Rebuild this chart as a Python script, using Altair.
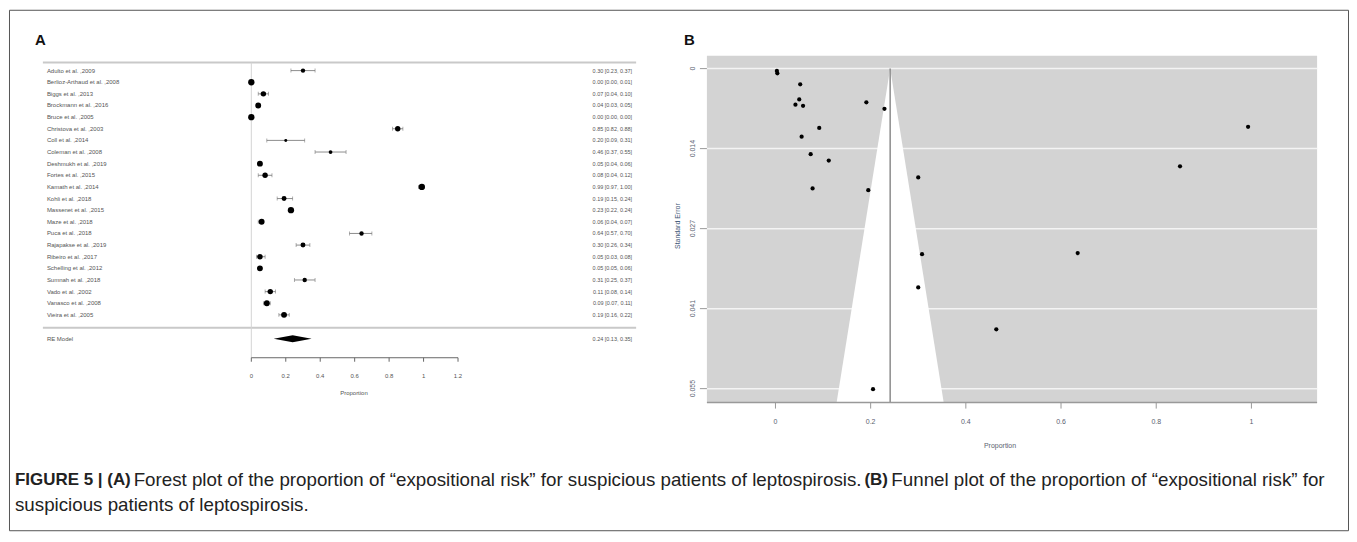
import altair as alt
import pandas as pd

OFF = 9  # page pixel -> chart pixel (8px body margin + 1px padding)


def px(v):
    return v - OFF


# ---------------- Panel A : forest plot data ----------------
studies = [
    "Adulto et al. ,2009", "Berlioz-Arthaud et al. ,2008", "Biggs et al. ,2013",
    "Brockmann et al. ,2016", "Bruce et al. ,2005", "Christova et al. ,2003",
    "Coll et al. ,2014", "Coleman et al. ,2008", "Deshmukh et al. ,2019",
    "Fortes et al. ,2015", "Kamath et al. ,2014", "Kohli et al. ,2018",
    "Massenet et al. ,2015", "Maze et al. ,2018", "Puca et al. ,2018",
    "Rajapakse et al. ,2019", "Ribeiro et al. ,2017", "Schelling et al. ,2012",
    "Sumnah et al. ,2018", "Vado et al. ,2002", "Vanasco et al. ,2008",
    "Vieira et al. ,2005",
]
est = [0.30, 0.00, 0.07, 0.04, 0.00, 0.85, 0.20, 0.46, 0.05, 0.08, 0.99,
       0.19, 0.23, 0.06, 0.64, 0.30, 0.05, 0.05, 0.31, 0.11, 0.09, 0.19]
ci_lo = [0.23, 0.00, 0.04, 0.03, 0.00, 0.82, 0.09, 0.37, 0.04, 0.04, 0.97,
         0.15, 0.22, 0.04, 0.57, 0.26, 0.03, 0.05, 0.25, 0.08, 0.07, 0.16]
ci_hi = [0.37, 0.01, 0.10, 0.05, 0.00, 0.88, 0.31, 0.55, 0.06, 0.12, 1.00,
         0.24, 0.24, 0.07, 0.70, 0.34, 0.08, 0.06, 0.37, 0.14, 0.11, 0.22]
weights = [3, 5, 4, 4.5, 5, 4, 2, 2.5, 4.5, 4, 5,
           3.5, 5, 4.5, 3, 3.5, 4, 4.5, 3, 4, 4.5, 4.5]
re_label = "RE Model"
re_est, re_lo, re_hi = 0.24, 0.13, 0.35
forest_ticks = [0, 0.2, 0.4, 0.6, 0.8, 1, 1.2]
forest_tick_labels = ["0", "0.2", "0.4", "0.6", "0.8", "1", "1.2"]

# ---------------- Panel B : funnel plot data ----------------
funnel_prop = [0.003, 0.004, 0.052, 0.050, 0.042, 0.058, 0.191, 0.229, 0.092,
               0.055, 0.074, 0.112, 0.300, 0.078, 0.195, 0.308, 0.300, 0.464,
               0.205, 0.993, 0.850, 0.635]
funnel_se = [0.0004, 0.0008, 0.0027, 0.0053, 0.0062, 0.0064, 0.0058, 0.0069,
             0.0102, 0.0117, 0.0147, 0.0158, 0.0187, 0.0206, 0.0209, 0.0319,
             0.0376, 0.0448, 0.0551, 0.0100, 0.0168, 0.0317]
funnel_center = 0.241
funnel_edge_se = [0.0, 0.0574]
funnel_edge_lo = [0.241, 0.1285]
funnel_edge_hi = [0.241, 0.3535]
funnel_xticks = [0, 0.2, 0.4, 0.6, 0.8, 1]
funnel_xtick_labels = ["0", "0.2", "0.4", "0.6", "0.8", "1"]
funnel_yticks = [0, 0.01375, 0.0275, 0.04125, 0.055]
funnel_ytick_labels = ["0", "0.014", "0.027", "0.041", "0.055"]

caption_1a = "FIGURE 5 | (A)"
caption_1b = "Forest plot of the proportion of \u201cexpositional risk\u201d for suspicious patients of leptospirosis."
caption_1c = "(B)"
caption_1d = "Funnel plot of the proportion of \u201cexpositional risk\u201d for"
caption_2 = "suspicious patients of leptospirosis."

FONT = "Liberation Sans"
CAP_FONT = "Liberation Sans"

one = pd.DataFrame({"_": [0]})


def txt(s):
    return alt.Chart(pd.DataFrame({"t": [s]}))


# ---------------- Panel A ----------------
fd = pd.DataFrame({
    "row": list(range(1, len(studies) + 1)),
    "label": studies, "est": est, "lo": ci_lo, "hi": ci_hi, "w": weights,
})
fd["txt"] = [f"{e:.2f} [{l:.2f}, {h:.2f}]" for e, l, h in zip(est, ci_lo, ci_hi)]

xA = alt.Scale(domain=[-1.21, 2.234], range=[px(43), px(638)], nice=False, zero=False)
yA = alt.Scale(domain=[0.314, 25.685], range=[px(62), px(358)], nice=False, zero=False)
RE_ROW = 24.06
DH = 0.3

XA = lambda f: alt.X(f, scale=xA, axis=None)
YA = lambda f: alt.Y(f, scale=yA, axis=None)

a_top = alt.Chart(one).mark_rule(color="#c9c9c9", strokeWidth=2).encode(
    x=alt.value(px(43)), x2=alt.value(px(638)), y=alt.value(px(62)))
a_bot = alt.Chart(one).mark_rule(color="#c9c9c9", strokeWidth=2).encode(
    x=alt.value(px(43)), x2=alt.value(px(638)), y=alt.value(px(328)))
a_zero = alt.Chart(one).mark_rule(color="#d4d4d4", strokeWidth=1).encode(
    x=alt.XDatum(forest_ticks[0], scale=xA, axis=None),
    y=alt.value(px(62)), y2=alt.value(px(358)))
a_ci = alt.Chart(fd).mark_rule(color="#707070", strokeWidth=0.8).encode(
    x=XA("lo:Q"), x2="hi:Q", y=YA("row:Q"))
a_cap_lo = alt.Chart(fd).mark_tick(orient="vertical", size=4, thickness=0.8,
                                   color="#707070").encode(x=XA("lo:Q"), y=YA("row:Q"))
a_cap_hi = alt.Chart(fd).mark_tick(orient="vertical", size=4, thickness=0.8,
                                   color="#707070").encode(x=XA("hi:Q"), y=YA("row:Q"))
a_pts = alt.Chart(fd).mark_circle(color="black", opacity=1).encode(
    x=XA("est:Q"), y=YA("row:Q"),
    size=alt.Size("w:Q", scale=alt.Scale(domain=[2, 5], range=[9, 40]), legend=None))
a_labels = alt.Chart(fd).mark_text(align="left", baseline="middle", font=FONT,
                                   fontSize=6, color="#555").encode(
    x=alt.value(px(47)), y=YA("row:Q"), text="label:N")
a_vals = alt.Chart(fd).mark_text(align="right", baseline="middle", font=FONT,
                                 fontSize=5.5, color="#555").encode(
    x=alt.value(px(634)), y=YA("row:Q"), text="txt:N")

dd = pd.DataFrame({"x": [re_lo, re_est, re_hi],
                   "y1": [RE_ROW, RE_ROW - DH, RE_ROW],
                   "y2": [RE_ROW, RE_ROW + DH, RE_ROW]})
a_diamond = alt.Chart(dd).mark_area(orient="vertical", color="black").encode(
    x=XA("x:Q"), y=YA("y1:Q"), y2="y2:Q")
a_re_lab = txt(re_label).mark_text(align="left", baseline="middle", font=FONT,
                                   fontSize=6, color="#555").encode(
    x=alt.value(px(47)), y=alt.value(px(339)), text="t:N")
a_re_val = txt(f"{re_est:.2f} [{re_lo:.2f}, {re_hi:.2f}]").mark_text(
    align="right", baseline="middle", font=FONT, fontSize=5.5, color="#555").encode(
    x=alt.value(px(634)), y=alt.value(px(339)), text="t:N")

ftd = pd.DataFrame({"t": forest_ticks, "lab": forest_tick_labels})
a_axis = alt.Chart(one).mark_rule(color="#666", strokeWidth=1).encode(
    x=alt.XDatum(forest_ticks[0], axis=None), x2=alt.X2Datum(forest_ticks[-1]),
    y=alt.value(px(358)))
a_ticks = alt.Chart(ftd).mark_rule(color="#666", strokeWidth=1).encode(
    x=XA("t:Q"), y=alt.value(px(358)), y2=alt.value(px(362)))
a_tlabs = alt.Chart(ftd).mark_text(baseline="middle", font=FONT, fontSize=6,
                                   color="#555").encode(
    x=XA("t:Q"), y=alt.value(px(376)), text="lab:N")
a_title = txt("Proportion").mark_text(baseline="middle", font=FONT, fontSize=6,
                                      color="#555").encode(
    x=alt.value(px(355)), y=alt.value(px(393)), text="t:N")

panelA = alt.layer(a_top, a_bot, a_zero, a_ci, a_cap_lo, a_cap_hi, a_pts,
                   a_labels, a_vals, a_diamond, a_re_lab, a_re_val,
                   a_axis, a_ticks, a_tlabs, a_title)

# ---------------- Panel B ----------------
xB = alt.Scale(domain=[-0.144, 1.138], range=[px(709), px(1321)], nice=False, zero=False)
yB = alt.Scale(domain=[-0.00223, 0.0574], range=[px(55), px(403)], nice=False, zero=False)
XB = lambda f: alt.X(f, scale=xB, axis=None)
YB = lambda f: alt.Y(f, scale=yB, axis=None)

fpd = pd.DataFrame({"p": funnel_prop, "se": funnel_se})
fed = pd.DataFrame({"se": funnel_edge_se, "lo": funnel_edge_lo, "hi": funnel_edge_hi})
fxt = pd.DataFrame({"t": funnel_xticks, "lab": funnel_xtick_labels})
fyt = pd.DataFrame({"t": funnel_yticks, "lab": funnel_ytick_labels})

b_bg = alt.Chart(one).mark_rect(color="#d3d3d3").encode(
    x=alt.value(px(709)), x2=alt.value(px(1321)),
    y=alt.value(px(55)), y2=alt.value(px(403)))
b_grid = alt.Chart(fyt).mark_rule(color="#f4f4f4", strokeWidth=1.5).encode(
    y=YB("t:Q"), x=alt.value(px(709)), x2=alt.value(px(1321)))
b_funnel = alt.Chart(fed).mark_area(orient="horizontal", color="white", opacity=1).encode(
    y=YB("se:Q"), x=XB("lo:Q"), x2="hi:Q")
b_center = alt.Chart(one).mark_rule(color="#8c8c8c", strokeWidth=1.5).encode(
    x=alt.XDatum(funnel_center, axis=None),
    y=alt.YDatum(funnel_edge_se[0], axis=None), y2=alt.Y2Datum(funnel_edge_se[1]))
b_pts = alt.Chart(fpd).mark_circle(color="black", size=18, opacity=1).encode(
    x=XB("p:Q"), y=YB("se:Q"))
b_xaxis = alt.Chart(one).mark_rule(color="#999", strokeWidth=1.5).encode(
    x=alt.value(px(709)), x2=alt.value(px(1321)), y=alt.value(px(403)))
b_xticks = alt.Chart(fxt).mark_rule(color="#999", strokeWidth=1).encode(
    x=XB("t:Q"), y=alt.value(px(403)), y2=alt.value(px(409)))
b_xlabs = alt.Chart(fxt).mark_text(baseline="middle", font=FONT, fontSize=7,
                                   color="#5a6270").encode(
    x=XB("t:Q"), y=alt.value(px(422)), text="lab:N")
b_yticks = alt.Chart(fyt).mark_rule(color="#999", strokeWidth=1).encode(
    y=YB("t:Q"), x=alt.value(px(702)), x2=alt.value(px(709)))
b_ylabs = alt.Chart(fyt).mark_text(baseline="middle", angle=270, font=FONT,
                                   fontSize=7, color="#5a6270").encode(
    y=YB("t:Q"), x=alt.value(px(695)), text="lab:N")
b_ytitle = txt("Standard Error").mark_text(baseline="middle", angle=270, font=FONT,
                                           fontSize=7, color="#3b5575").encode(
    x=alt.value(px(680)), y=alt.value(px(226)), text="t:N")
b_xtitle = txt("Proportion").mark_text(baseline="middle", font=FONT, fontSize=7,
                                       color="#5a6270").encode(
    x=alt.value(px(1003)), y=alt.value(px(447)), text="t:N")

panelB = alt.layer(b_bg, b_grid, b_funnel, b_center, b_pts, b_xaxis, b_xticks,
                   b_xlabs, b_yticks, b_ylabs, b_ytitle, b_xtitle)

# ---------------- labels and caption ----------------
lab_A = txt("A").mark_text(align="left", baseline="alphabetic", font=FONT,
                           fontSize=15, fontWeight="bold", color="#111").encode(
    x=alt.value(px(35)), y=alt.value(px(44)), text="t:N")
lab_B = txt("B").mark_text(align="left", baseline="alphabetic", font=FONT,
                           fontSize=15, fontWeight="bold", color="#111").encode(
    x=alt.value(px(686)), y=alt.value(px(44)), text="t:N")


def cap(s, x, y, bold=False):
    return txt(s).mark_text(align="left", baseline="middle", font=CAP_FONT,
                            fontSize=17 if bold else 18.8,
                            fontWeight="bold" if bold else "normal",
                            color="#222").encode(
        x=alt.value(px(x)), y=alt.value(px(y)), text="t:N")


captions = alt.layer(
    cap(caption_1a, 15, 481, True),
    cap(caption_1b, 134, 481),
    cap(caption_1c, 867, 481, True),
    cap(caption_1d, 894, 481),
    cap(caption_2, 15, 506),
)

chart = alt.layer(panelA, panelB, lab_A, lab_B, captions).resolve_scale(
    x="independent", y="independent", size="independent"
).properties(width=1343, height=522, padding=1).configure_view(
    stroke="#555", strokeWidth=1)

chart.save("out.html", embed_options={"renderer": "svg", "actions": False})
